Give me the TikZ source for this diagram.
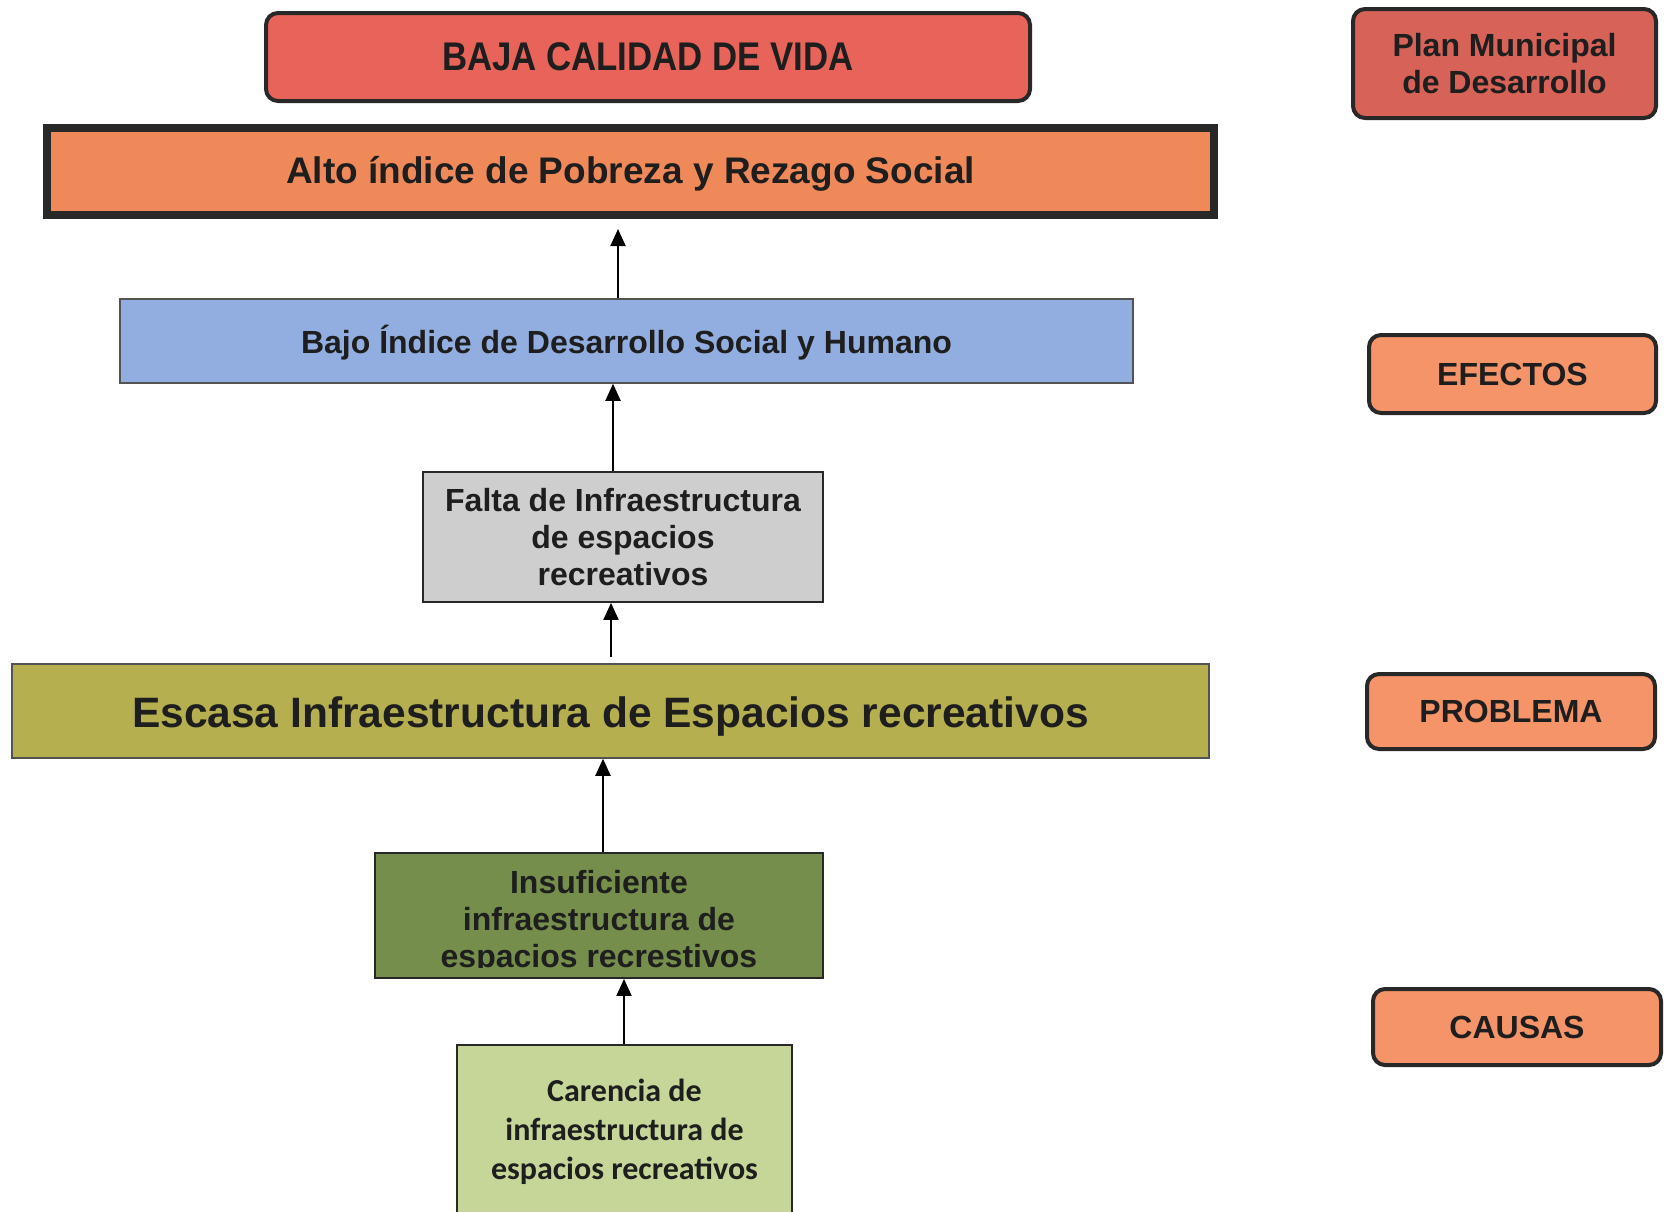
\documentclass[tikz,border=0pt]{standalone}
\usepackage{graphicx}
\usepackage{fontspec}
\setmainfont{Liberation Sans}
\newfontfamily\calib{Carlito}
\usetikzlibrary{arrows.meta}
\definecolor{cBaja}{RGB}{232,100,90}
\definecolor{cAlto}{RGB}{240,137,90}
\definecolor{cBajo}{RGB}{146,173,224}
\definecolor{cFalta}{RGB}{206,206,206}
\definecolor{cEscasa}{RGB}{181,175,80}
\definecolor{cInsuf}{RGB}{118,142,76}
\definecolor{cCar}{RGB}{197,214,152}
\definecolor{cPlan}{RGB}{214,98,88}
\definecolor{cTag}{RGB}{245,148,105}
\definecolor{edge}{RGB}{40,40,40}
\definecolor{txt}{RGB}{30,30,30}
\newcommand\lowerby[2]{\raisebox{-#1}[\height][\depth]{#2}}
\begin{document}
\begin{tikzpicture}[x=1pt,y=-1pt,
  lab/.style={font=\bfseries\fontsize{32}{37}\selectfont, align=center, text=txt},
  rbox/.style={draw=edge, line width=4pt, rounded corners=12pt, inner sep=0pt, lab},
  fbox/.style={draw=edge, line width=1.8pt, inner sep=0pt, lab},
  arr/.style={draw=black, line width=2pt, -{Triangle[width=15pt,length=17pt]}}]
\useasboundingbox (0,0) rectangle (1667,1211);
\clip (0,0) rectangle (1667,1211);

% main column
\node[rbox, fill=cBaja, minimum width=764pt, minimum height=88pt] (baja) at (648,57)
  {\fontsize{40}{46}\selectfont\scalebox{0.87}[1]{BAJA CALIDAD DE VIDA}};
\node[fbox, draw=edge, line width=8pt, fill=cAlto, minimum width=1167pt, minimum height=87pt] (alto) at (630.5,171.5)
  {\fontsize{37}{42}\selectfont\lowerby{2pt}{Alto índice de Pobreza y Rezago Social}};
\draw[edge, line width=2.5pt] ([xshift=7pt,yshift=-7pt]alto.north west) rectangle ([xshift=-7pt,yshift=7pt]alto.south east);
\node[fbox, draw=edge!80, line width=1.5pt, fill=cBajo, minimum width=1013pt, minimum height=84pt] (bajo) at (626.5,341)
  {\lowerby{2pt}{Bajo Índice de Desarrollo Social y Humano}};
\node[fbox, fill=cFalta, minimum width=400pt, minimum height=130pt] (falta) at (623,537)
  {Falta de Infraestructura\\de espacios\\recreativos};
\node[fbox, draw=edge!80, line width=1.5pt, fill=cEscasa, minimum width=1197pt, minimum height=94pt] (escasa) at (610.5,711)
  {\fontsize{42.5}{48}\selectfont\lowerby{5pt}{Escasa Infraestructura de Espacios recreativos}};
\node[fbox, fill=cInsuf, minimum width=448pt, minimum height=125pt] (insuf) at (599,915.5) {};
\begin{scope}
  \clip (374,853) rectangle (824,967);
  \node[lab, inner sep=0pt] (insuftext) at (599,922)
    {Insuficiente\\infraestructura de\\espacios recrestivos};
\end{scope}
\node[fbox, fill=cCar, minimum width=335pt, minimum height=190pt] (carencia) at (624.5,1140) {};
\node[lab, inner sep=0pt, font=\calib\bfseries\fontsize{32}{39}\selectfont] (cartext) at (624.5,1132)
  {Carencia de\\infraestructura de\\espacios recreativos};

% right column
\node[rbox, fill=cPlan, minimum width=303pt, minimum height=109pt] (plan) at (1504.5,63.5)
  {\fontsize{32}{35}\selectfont Plan Municipal\\de Desarrollo};
\node[rbox, fill=cTag, minimum width=287pt, minimum height=78pt] (efectos) at (1512.5,374) {EFECTOS};
\node[rbox, fill=cTag, minimum width=288pt, minimum height=75pt] (problema) at (1511,711.5) {PROBLEMA};
\node[rbox, fill=cTag, minimum width=288pt, minimum height=76pt] (causas) at (1517,1027) {CAUSAS};

% arrows
\draw[arr] ([xshift=-8.5pt]bajo.north) -- ([xshift=-12.5pt,yshift=-10pt]alto.south);
\draw[arr] ([xshift=-10pt]falta.north) -- ([xshift=-13.5pt]bajo.south);
\draw[arr] ([xshift=0.5pt,yshift=6pt]escasa.north) -- ([xshift=-12pt]falta.south);
\draw[arr] ([xshift=4pt]insuf.north) -- ([xshift=-7.5pt]escasa.south);
\draw[arr] ([xshift=-0.5pt]carencia.north) -- ([xshift=25pt]insuf.south);
\end{tikzpicture}
\end{document}
